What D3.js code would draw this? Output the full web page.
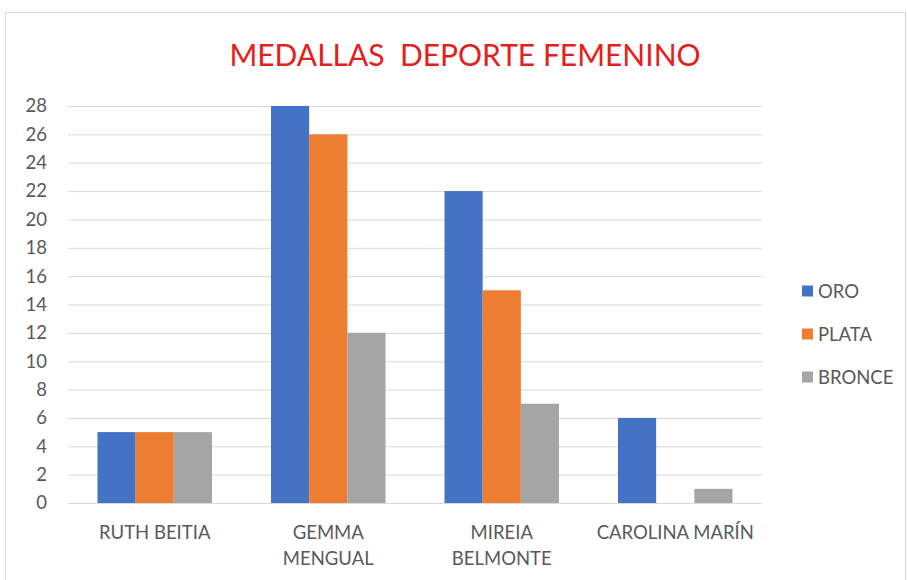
<!DOCTYPE html>
<html><head><meta charset="utf-8">
<script src="https://cdn.jsdelivr.net/npm/d3@7/dist/d3.min.js"></script>
<style>body{margin:0;background:#fff;} svg{display:block;} text{font-family:Lato,"Open Sans",sans-serif;}</style>
</head><body>
<svg id="chart" width="907" height="580"></svg>
<script>
const categories = [["RUTH BEITIA"], ["GEMMA", "MENGUAL"], ["MIREIA", "BELMONTE"], ["CAROLINA MARÍN"]];
const seriesNames = ["ORO", "PLATA", "BRONCE"];
const oro = [5, 28, 22, 6];
const plata = [5, 26, 15, 0];
const bronce = [5, 12, 7, 1];
const yTicks = [0, 2, 4, 6, 8, 10, 12, 14, 16, 18, 20, 22, 24, 26, 28];
const colors = ["#4472C4", "#ED7D31", "#A5A5A5"];
const title = "MEDALLAS  DEPORTE FEMENINO";

(function () {
const series = [oro, plata, bronce];
const svg = d3.select("#chart");
const fs = 18.5;

svg.append("rect").attr("x", 5.5).attr("y", 12.5).attr("width", 900).attr("height", 570)
  .attr("fill", "#fff").attr("stroke", "#d9d9d9");

const pLeft = 68, pRight = 762, pTop = 106, pBottom = 503;
const x0 = d3.scaleBand().domain(d3.range(categories.length)).range([pLeft, pRight]).paddingInner(0.34).paddingOuter(0.17);
const x1 = d3.scaleBand().domain(d3.range(series.length)).range([0, x0.bandwidth()]);
const y = d3.scaleLinear().domain([0, 28]).range([pBottom, pTop]);

const yAxis = d3.axisLeft(y).tickValues(yTicks).tickSize(-(pRight - pLeft)).tickPadding(21);
const ga = svg.append("g").attr("transform", `translate(${pLeft},0)`).call(yAxis);
ga.select(".domain").remove();
ga.selectAll("line").attr("stroke", "#d9d9d9").attr("stroke-width", 1);
ga.selectAll("text").attr("fill", "#595959").attr("font-size", fs).attr("font-family", "Lato, 'Open Sans', sans-serif");

const groups = svg.append("g").selectAll("g").data(categories).join("g")
  .attr("transform", (d, i) => `translate(${x0(i)},0)`);
groups.selectAll("rect").data((d, i) => series.map((s, j) => ({ j, v: s[i] }))).join("rect")
  .attr("x", d => x1(d.j)).attr("width", x1.bandwidth())
  .attr("y", d => y(d.v)).attr("height", d => y(0) - y(d.v))
  .attr("fill", d => colors[d.j]);

const xl = svg.append("g").selectAll("text").data(categories).join("text")
  .attr("x", (d, i) => x0(i) + x0.bandwidth() / 2).attr("y", 539)
  .attr("text-anchor", "middle").attr("fill", "#595959").attr("font-size", fs);
xl.selectAll("tspan").data(d => d).join("tspan")
  .attr("x", function () { return this.parentNode.getAttribute("x"); })
  .attr("dy", (d, i) => i === 0 ? 0 : 26).text(d => d);

svg.append("text").attr("x", 465).attr("y", 66).attr("text-anchor", "middle")
  .style("white-space", "pre").attr("xml:space", "preserve")
  .attr("fill", "#E2211C").attr("font-size", 30).text(title);

const leg = svg.append("g").selectAll("g").data(seriesNames).join("g")
  .attr("transform", (d, i) => `translate(802,${291 + i * 43})`);
leg.append("rect").attr("x", 0).attr("y", -5.5).attr("width", 11).attr("height", 11).attr("fill", (d, i) => colors[i]);
leg.append("text").attr("x", 16).attr("y", 6.5).attr("fill", "#595959").attr("font-size", fs).text(d => d);
})();
</script>
</body></html>
